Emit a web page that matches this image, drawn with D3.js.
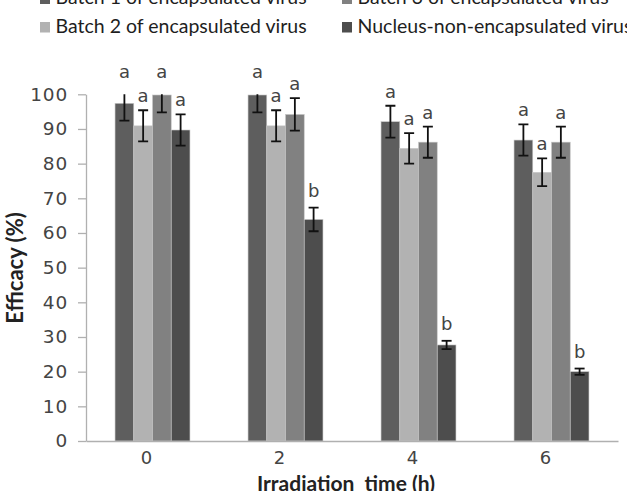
<!DOCTYPE html>
<html><head><meta charset="utf-8">
<script src="https://cdn.jsdelivr.net/npm/d3@7"></script>
<style>body{margin:0;background:#fff}svg{display:block}</style>
</head><body><svg id="c" width="627" height="491"></svg>
<script>
const categories = ["0","2","4","6"];
const seriesNames = ["Batch 1 of encapsulated virus","Batch 2 of encapsulated virus","Batch 3 of encapsulated virus","Nucleus-non-encapsulated virus"];
const batch1 = [97.4, 99.8, 92.1, 86.8];
const batch2 = [90.9, 90.9, 84.4, 77.5];
const batch3 = [99.8, 94.2, 86.2, 86.2];
const nucleus = [89.7, 63.9, 27.7, 20.0];
const err1 = [5.0, 5.0, 4.6, 4.5];
const err2 = [4.5, 4.5, 4.4, 4.0];
const err3 = [5.0, 4.7, 4.5, 4.5];
const err4 = [4.5, 3.4, 1.2, 0.9];
const letters1 = ["a","a","a","a"];
const letters2 = ["a","a","a","a"];
const letters3 = ["a","a","a","a"];
const letters4 = ["a","b","b","b"];
const yTicks = [0,10,20,30,40,50,60,70,80,90,100];
const colors = ["#5e5e5e","#b2b2b2","#818181","#4d4d4d"];

const values = [batch1,batch2,batch3,nucleus];
const errs = [err1,err2,err3,err4];
const letters = [letters1,letters2,letters3,letters4];

const svg = d3.select("#c");
const font = "Lato, 'Open Sans', sans-serif";
const tickFont = "'DejaVu Sans', sans-serif";
const pLeft = 86, pRight = 618, pTop = 94.3, pBottom = 441;

const x0 = d3.scaleBand().domain(categories).range([pLeft, pRight]).paddingInner(0).paddingOuter(0);
const x1 = d3.scaleBand().domain(d3.range(4)).range([0, x0.bandwidth()]).paddingInner(0).paddingOuter(1.55);
const y = d3.scaleLinear().domain([0,100]).range([pBottom, pTop]);

svg.append("defs").append("clipPath").attr("id","pc")
  .append("rect").attr("x",pLeft).attr("y",pTop).attr("width",pRight-pLeft).attr("height",pBottom-pTop);

// y axis
const yAxis = svg.append("g").attr("transform",`translate(${pLeft},0)`)
  .call(d3.axisLeft(y).tickValues(yTicks).tickSize(8).tickSizeOuter(0).tickPadding(10));
yAxis.select(".domain").attr("stroke","#b0b0b0").attr("stroke-width",1.3);
yAxis.selectAll(".tick line").attr("stroke","#b0b0b0").attr("stroke-width",1.3);
yAxis.selectAll(".tick text").attr("font-family",tickFont).attr("font-size",18.5)
  .attr("letter-spacing",0.8).attr("fill","#444");

const items = [];
categories.forEach((c,ci)=>values.forEach((s,si)=>items.push({c,ci,si,v:s[ci],e:errs[si][ci],l:letters[si][ci]})));

svg.append("g").selectAll("rect").data(items).join("rect")
  .attr("x", d => x0(d.c) + x1(d.si))
  .attr("y", d => y(d.v))
  .attr("width", x1.bandwidth())
  .attr("height", d => y(0) - y(d.v))
  .attr("fill", d => colors[d.si])
  .attr("stroke","#c8c8c8").attr("stroke-width",0.6);

// x axis
const xAxis = svg.append("g").attr("transform",`translate(0,${pBottom})`)
  .call(d3.axisBottom(x0).tickSize(0).tickSizeOuter(0).tickPadding(10.5));
xAxis.select(".domain").attr("stroke","#b0b0b0").attr("stroke-width",1.3);
xAxis.selectAll(".tick text").attr("font-family",tickFont).attr("font-size",18).attr("fill","#444").attr("dx",-6);

// error bars
const eb = svg.append("g").attr("clip-path","url(#pc)").attr("stroke","#111").attr("stroke-width",1.8);
items.forEach(d=>{
  const cx = x0(d.c) + x1(d.si) + x1.bandwidth()/2;
  const y1 = y(d.v + d.e), y2 = y(d.v - d.e);
  eb.append("line").attr("x1",cx).attr("x2",cx).attr("y1",y1).attr("y2",y2);
  eb.append("line").attr("x1",cx-5).attr("x2",cx+5).attr("y1",y1).attr("y2",y1);
  eb.append("line").attr("x1",cx-5).attr("x2",cx+5).attr("y1",y2).attr("y2",y2);
});

// significance letters
svg.append("g").selectAll("text").data(items).join("text")
  .attr("x", d => x0(d.c) + x1(d.si) + x1.bandwidth()/2)
  .attr("y", d => y(Math.min(d.v + d.e, 102.5)) - (d.l === "b" ? 11 : 8))
  .attr("text-anchor","middle")
  .attr("font-family", tickFont).attr("font-size",18).attr("fill","#444")
  .text(d => d.l);

// axis titles
svg.append("text").attr("transform","translate(23,268) rotate(-90)")
  .attr("text-anchor","middle").attr("font-family",font).attr("font-weight","bold")
  .attr("font-size",22).attr("fill","#222").text("Efficacy (%)");
svg.append("text").attr("x",346).attr("y",490.5).attr("text-anchor","middle")
  .attr("font-family",font).attr("font-weight","bold").attr("font-size",21).attr("fill","#222")
  .style("white-space","pre").text("Irradiation  time (h)");

// legend
const legendOrder = [0,2,1,3];
const lg = svg.append("g");
legendOrder.forEach((si,i)=>{
  const col = i % 2, row = Math.floor(i/2);
  const lx = col === 0 ? 40 : 342, ly = row === 0 ? 4 : 32.5;
  lg.append("rect").attr("x",lx).attr("y",ly-10.5).attr("width",10).attr("height",10.5).attr("fill",colors[si]);
  lg.append("text").attr("x",lx+15.5).attr("y",ly).attr("font-family",font).attr("font-size",19.5)
    .attr("fill","#1e1e1e").text(seriesNames[si]);
});
</script></body></html>
